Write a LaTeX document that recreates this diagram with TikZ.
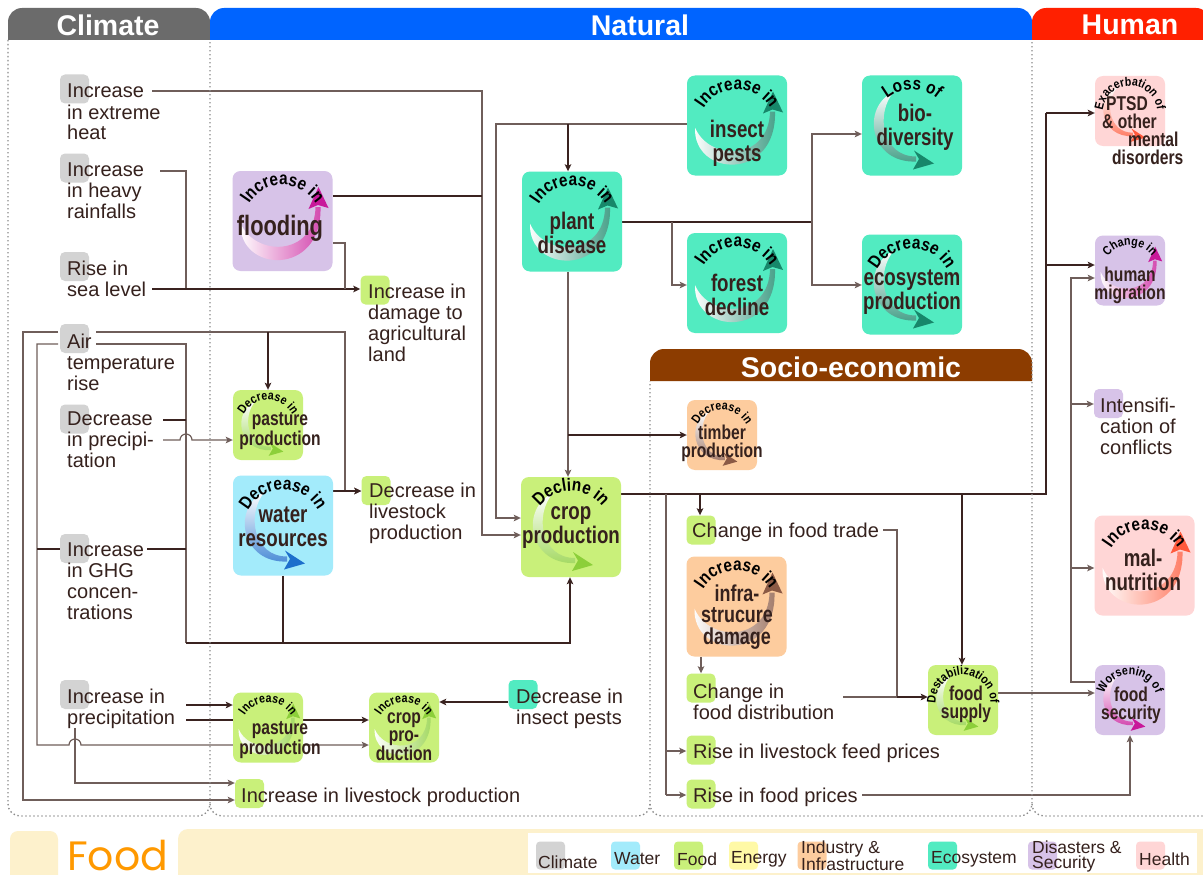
\documentclass[tikz,border=0pt]{standalone}
\usepackage{fontspec}
\setmainfont{Liberation Sans}
\newfontfamily\cnd[FakeStretch=0.78]{Liberation Sans}
\newfontfamily\hfnt[FakeStretch=0.85]{Liberation Sans}
\newfontfamily\foodfont{Poppins}
\usetikzlibrary{arrows.meta,decorations.text}
\pgfdeclarelayer{bg}\pgfsetlayers{bg,main}
\definecolor{txt}{HTML}{35211D}
\definecolor{lnk}{HTML}{3A2320}
\definecolor{lnt}{HTML}{6F5E5A}
\definecolor{dotc}{HTML}{8A8A8A}
\definecolor{grayc}{HTML}{D3D3D3}
\definecolor{waterc}{HTML}{A3EBFB}
\definecolor{foodc}{HTML}{C9F07A}
\definecolor{energyc}{HTML}{FFF9A6}
\definecolor{indc}{HTML}{FDCC9E}
\definecolor{ecoc}{HTML}{52EBC1}
\definecolor{disc}{HTML}{D7C3E8}
\definecolor{healc}{HTML}{FFD6D6}
\definecolor{climtab}{HTML}{6B6B6B}
\definecolor{nattab}{HTML}{0064FF}
\definecolor{humtab}{HTML}{FF2000}
\definecolor{soctab}{HTML}{8C3C00}
\definecolor{cream}{HTML}{FDF1CC}
\definecolor{foodor}{HTML}{FF9900}
\definecolor{magc}{HTML}{C8199A}
\definecolor{tealc}{HTML}{17876A}
\definecolor{bluec}{HTML}{1C6FCC}
\definecolor{greenc}{HTML}{8CCF3A}
\definecolor{brownc}{HTML}{8B5A45}
\definecolor{redc}{HTML}{FF5A3C}
\newcommand\tl[1]{\begin{tabular}[t]{@{}l@{}}#1\end{tabular}}
\newcommand\swup[1]{%
  \shade[left color=white, right color=#1!80!white] (-42pt,-2pt) .. controls (-44pt,-52pt) and (40pt,-56pt) .. (38pt,14pt) -- (33pt,14pt) .. controls (32pt,-36pt) and (-28pt,-36pt) .. (-42pt,-2pt) -- cycle;
  \fill[#1] (36pt,34pt) -- (26pt,12pt) -- (35.5pt,16pt) -- (46pt,13pt) -- cycle;}
\newcommand\swdown[1]{%
  \shade[top color=white, bottom color=#1!80!white] (-18pt,34pt) .. controls (-52pt,18pt) and (-42pt,-38pt) .. (4pt,-36pt) -- (4pt,-31pt) .. controls (-30pt,-31pt) and (-37pt,12pt) .. (-18pt,34pt) -- cycle;
  \fill[#1] (22pt,-38pt) -- (2pt,-25pt) -- (7pt,-33.5pt) -- (1pt,-44pt) -- cycle;}
% name, cx, cy, size, fill, accent, header, dir
\newcommand\icon[8]{%
  \node[iconbox, fill=#5, minimum size=#4pt] (#1) at (#2,#3) {};
  \begin{scope}[shift={(#2,#3)}, scale=#4/100]
    \csname sw#8\endcsname{#6}
    \ifnum#4>80 \def\hsz{18}\else\def\hsz{12.5}\fi
    {\hfnt\bfseries\fontsize{\hsz}{\hsz}\selectfont\color{txt}%
    \path[decorate, decoration={text along path, text align=center, text={#7}}]
      (0pt,-3pt) ++(215:39pt) arc[start angle=215, end angle=-35, radius=39pt];}
  \end{scope}}
\begin{document}
\begin{tikzpicture}[x=1pt,y=-1pt,
  lk/.style={draw=lnk, line width=1.8pt},
  lt/.style={draw=lnt, line width=1.2pt},
  arr/.style={-{Stealth[length=7pt,width=6.5pt,inset=1.5pt]}},
  iconbox/.style={rectangle, rounded corners=8pt, inner sep=0pt},
  sqr/.style={rectangle, rounded corners=5pt, minimum width=29pt, minimum height=29pt, inner sep=0pt},
  tx/.style={anchor=base west, inner sep=0pt, text=txt, font=\fontsize{20}{21}\selectfont},
  mainbig/.style={inner sep=0pt, align=center, text=txt, font=\cnd\bfseries\fontsize{24}{24}\selectfont},
  mainsm/.style={inner sep=0pt, align=center, text=txt, font=\cnd\bfseries\fontsize{20}{18}\selectfont},
  tabtxt/.style={text=white, font=\bfseries\fontsize{28.5}{28.5}\selectfont, inner sep=0pt},
  dotl/.style={draw=dotc, line width=1.3pt, dash pattern=on 1.4pt off 2.6pt},
  lsq/.style={rectangle, rounded corners=4pt, minimum width=29pt, minimum height=28pt, inner sep=0pt},
  ltx/.style={anchor=west, inner sep=0pt, text=txt, font=\fontsize{17.5}{15}\selectfont, align=left}]
\useasboundingbox (0,0) rectangle (1203,875);
\begin{pgfonlayer}{bg}
\fill[white] (0,0) rectangle (1203,875);
\end{pgfonlayer}
% ---------- header tabs ----------
\fill[climtab] (8,40) -- (8,22) arc[start angle=180,end angle=90,radius=14pt] -- (196,8) arc[start angle=90,end angle=0,radius=14pt] -- (210,40) -- cycle;
\fill[nattab] (210,40) -- (210,22) arc[start angle=180,end angle=90,radius=14pt] -- (1018,8) arc[start angle=90,end angle=0,radius=14pt] -- (1032,40) -- cycle;
\fill[humtab] (1032,40) -- (1032,22) arc[start angle=180,end angle=90,radius=14pt] -- (1196,8) arc[start angle=90,end angle=0,radius=14pt] -- (1210,40) -- cycle;
\fill[soctab] (650,381) -- (650,363) arc[start angle=180,end angle=90,radius=14pt] -- (1018,349) arc[start angle=90,end angle=0,radius=14pt] -- (1032,381) -- cycle;
\node[tabtxt] (hclim) at (108,25) {Climate};
\node[tabtxt] (hnat) at (640,25) {Natural};
\node[tabtxt] (hhum) at (1130,25) {Human};
\node[tabtxt] (hsoc) at (851,367) {Socio-economic};
% ---------- dotted regions ----------
\draw[dotl] (8,40) -- (8,804) arc[start angle=180,end angle=270,radius=12pt] -- (198,816) arc[start angle=270,end angle=360,radius=12pt] -- (210,40);
\draw[dotl] (210,804) arc[start angle=180,end angle=270,radius=12pt] -- (638,816) arc[start angle=270,end angle=360,radius=12pt] -- (650,381);
\draw[dotl] (650,804) arc[start angle=180,end angle=270,radius=12pt] -- (1020,816) arc[start angle=270,end angle=360,radius=12pt] -- (1032,40);
\draw[dotl] (1032,804) arc[start angle=180,end angle=270,radius=12pt] -- (1210,816);
% ---------- footer ----------
\fill[cream, rounded corners=8pt] (10,831) rectangle (58,885);
\fill[cream, rounded corners=10pt] (178,829) rectangle (1215,885);
\fill[white] (528,833) rectangle (1197,873);
\node[text=foodor, font=\foodfont\fontsize{41}{41}\selectfont, anchor=base west, inner sep=0pt] (foodlbl) at (67,870) {Food};
\node[lsq, fill=grayc] (lg1) at (550.5,855.5) {}; \node[ltx] (lg1t) at (538,862) {Climate};
\node[lsq, fill=waterc] (lg2) at (625.5,855.5) {}; \node[ltx] (lg2t) at (614,859) {Water};
\node[lsq, fill=foodc] (lg3) at (688.5,855.5) {}; \node[ltx] (lg3t) at (677,859) {Food};
\node[lsq, fill=energyc] (lg4) at (743.5,855.5) {}; \node[ltx] (lg4t) at (731,859) {Energy};
\node[lsq, fill=indc] (lg5) at (812,855.5) {}; \node[ltx] (lg5t) at (801,856) {Industry \&\\Infrastructure};
\node[lsq, fill=ecoc] (lg6) at (942.5,855.5) {}; \node[ltx] (lg6t) at (931,859) {Ecosystem};
\node[lsq, fill=disc] (lg7) at (1042.5,855.5) {}; \node[ltx] (lg7t) at (1032,856) {Disasters \&\\Security};
\node[lsq, fill=healc] (lg8) at (1150.5,855.5) {}; \node[ltx] (lg8t) at (1139,859) {Health};
% ---------- simple labelled nodes ----------
\node[sqr, fill=grayc] (heat-sq) at (74.5,89) {};
\node[tx] (heat) at (67,98) {\tl{Increase\\in extreme\\heat}};
\node[sqr, fill=grayc] (rain-sq) at (74.5,168) {};
\node[tx] (rain) at (67,176) {\tl{Increase\\in heavy\\rainfalls}};
\node[sqr, fill=grayc] (sea-sq) at (74.5,266.5) {};
\node[tx] (sea) at (67,275) {\tl{Rise in\\sea level}};
\node[sqr, fill=grayc] (air-sq) at (74.5,338.5) {};
\node[tx] (air) at (67,348) {\tl{Air\\temperature\\rise}};
\node[sqr, fill=grayc] (dprec-sq) at (74.5,419) {};
\node[tx] (dprec) at (67,425) {\tl{Decrease\\in precipi-\\tation}};
\node[sqr, fill=grayc] (ghg-sq) at (74.5,548.5) {};
\node[tx] (ghg) at (67,556) {\tl{Increase\\in GHG\\concen-\\trations}};
\node[sqr, fill=grayc] (iprec-sq) at (74.5,694.5) {};
\node[tx] (iprec) at (67,703) {\tl{Increase in\\precipitation}};
\node[sqr, fill=foodc] (dmg-sq) at (375,290) {};
\node[tx] (dmg) at (368,298) {\tl{Increase in\\damage to\\agricultural\\land}};
\node[sqr, fill=foodc] (dlive-sq) at (376,490.5) {};
\node[tx] (dlive) at (369,497) {\tl{Decrease in\\livestock\\production}};
\node[sqr, fill=foodc] (trade-sq) at (701,530) {};
\node[tx] (trade) at (692,537) {Change in food trade};
\node[sqr, fill=foodc] (distr-sq) at (701,688) {};
\node[tx] (distr) at (693,698) {\tl{Change in\\food distribution}};
\node[sqr, fill=foodc] (feed-sq) at (701,750) {};
\node[tx] (feed) at (693,758) {Rise in livestock feed prices};
\node[sqr, fill=foodc] (fprice-sq) at (701,794) {};
\node[tx] (fprice) at (693,802) {Rise in food prices};
\node[sqr, fill=ecoc] (dins-sq) at (523,694.5) {};
\node[tx] (dins) at (516,703) {\tl{Decrease in\\insect pests}};
\node[sqr, fill=foodc] (ilive-sq) at (249.5,793.5) {};
\node[tx] (ilive) at (241,802) {Increase in livestock production};
\node[sqr, fill=disc] (confl-sq) at (1108.5,403.5) {};
\node[tx] (confl) at (1100,412) {\tl{Intensifi-\\cation of\\conflicts}};
% ---------- icons ----------
\icon{flood}{282.5}{221}{100}{disc}{magc}{Increase in}{up}
\icon{plant}{572}{221.5}{100}{ecoc}{tealc}{Increase in}{up}
\icon{insect}{737}{125.5}{100}{ecoc}{tealc}{Increase in}{up}
\icon{forest}{737}{283}{100}{ecoc}{tealc}{Increase in}{up}
\icon{bio}{912}{125.5}{100}{ecoc}{tealc}{Loss of}{down}
\icon{eco}{912}{284.5}{100}{ecoc}{tealc}{Decrease in}{down}
\icon{water}{283}{525.5}{100}{waterc}{bluec}{Decrease in}{down}
\icon{crop}{571}{527}{100}{foodc}{greenc}{Decline in}{down}
\icon{infra}{736.5}{606.5}{100}{indc}{brownc}{Increase in}{up}
\icon{maln}{1144.5}{565.5}{100}{healc}{redc}{Increase in}{up}
\icon{dpast}{268}{425}{70}{foodc}{greenc}{Decrease in}{down}
\icon{timber}{722}{435}{70}{indc}{brownc}{Decrease in}{down}
\icon{supply}{963}{700}{70}{foodc}{greenc}{Destabilization of}{down}
\icon{security}{1130}{700}{70}{disc}{magc}{Worsening of}{down}
\icon{ptsd}{1130}{111}{70}{healc}{redc}{Exacerbation of}{down}
\icon{migr}{1130}{270.5}{70}{disc}{magc}{Change in}{up}
\icon{ipast}{268}{727.5}{70}{foodc}{greenc}{Increase in}{up}
\icon{icrop}{404}{727.5}{70}{foodc}{greenc}{Increase in}{up}
% main icon texts
\node[mainbig, font=\cnd\bfseries\fontsize{28}{28}\selectfont] (flood-t) at (280,228) {flooding};
\node[mainbig] (plant-t) at (572,233) {plant\\disease};
\node[mainbig] (insect-t) at (737,143) {insect\\pests};
\node[mainbig] (forest-t) at (737,295) {forest\\decline};
\node[mainbig] (bio-t) at (915,127) {bio-\\diversity};
\node[mainbig] (eco-t) at (912,292) {ecosystem\\production};
\node[mainbig] (water-t) at (283,527) {water\\resources};
\node[mainbig] (crop-t) at (571,528) {crop\\production};
\node[mainbig, font=\cnd\bfseries\fontsize{23}{21.5}\selectfont] (infra-t) at (737,617) {infra-\\strucure\\damage};
\node[mainbig] (maln-t) at (1143,570) {mal-\\nutrition};
\node[mainsm] (dpast-t) at (280,431) {pasture\\production};
\node[mainsm] (timber-t) at (722,443) {timber\\production};
\node[mainsm] (supply-t) at (966,704) {food\\supply};
\node[mainsm] (security-t) at (1131,705) {food\\security};
\node[mainsm] (migr-t) at (1130,285) {human\\migration};
\node[mainsm] (ipast-t) at (280,740) {pasture\\production};
\node[mainsm, font=\cnd\bfseries\fontsize{20}{17.5}\selectfont] (icrop-t) at (404,737) {crop\\pro-\\duction};
\node[mainsm, align=left, anchor=north west] (ptsd-t) at (1102,96) {\hspace*{4pt}PTSD\\\& other\\\hspace*{26pt}mental\\\hspace*{10pt}disorders};
% ---------- connector start points ----------
\coordinate (heat-o) at (152,91);
\coordinate (rain-o) at (160,171);
\coordinate (sea-o) at (152,289);
\coordinate (air-a) at (58,332);
\coordinate (air-b) at (58,344);
\coordinate (air-c) at (96,332);
\coordinate (air-d) at (96,344);
\coordinate (dprec-a) at (163,420);
\coordinate (dprec-b) at (163,440);
\coordinate (ghg-a) at (147,549);
\coordinate (iprec-a) at (186,705);
\coordinate (iprec-b) at (186,720);
\coordinate (iprec-c) at (75,728);
\coordinate (trade-o) at (883,530);
\coordinate (distr-o) at (843,697);
\coordinate (fprice-o) at (862,795);
% ---------- connectors ----------
\begin{pgfonlayer}{bg}
\draw[lt,arr] (heat-o) -- (482,91) -- (482,535) -- (crop.west |- 0,535);
\draw[lk] (flood.east |- 0,196) -- (482,196);
\draw[lt,arr] (insect.west |- 0,124) -- (496,124) -- (496,518) -- (crop.west |- 0,518);
\draw[lk,arr] (568,124) -- (plant.north -| 568,0);
\draw[lt] (rain-o) -- (186,171) -- (186,289);
\draw[lk,arr] (sea-o) -- (dmg-sq.west |- 0,289);
\draw[lt] (flood.east |- 0,243) -- (345,243) -- (345,289);
\draw[lt,arr] (air-a) -- (23,332) -- (23,800) -- (ilive-sq.west |- 0,800);
\draw[lt,arr] (air-b) -- (37,344) -- (37,745) -- (69,745) arc[start angle=180,end angle=0,radius=6pt] -- (icrop.west |- 0,745);
\draw[lt,arr] (air-c) -- (345,332) -- (345,491) -- (dlive-sq.west |- 0,491);
\draw[lk,arr] (268,332) -- (dpast.north);
\draw[lt] (air-d) -- (186,344) -- (186,643);
\draw[lk,arr] (186,643) -- (570,643) -- (crop.south -| 570,0);
\draw[lk] (dprec-a) -- (186,420);
\draw[lt,arr] (dprec-b) -- (180,440) arc[start angle=180,end angle=0,radius=6pt] -- (dpast.west |- 0,440);
\draw[lk] (ghg-a) -- (186,549);
\draw[lk] (ghg-sq.west |- 0,549) -- (37,549);
\draw[lk,arr] (water.east |- 0,491) -- (dlive-sq.west |- 0,491);
\draw[lk] (water.south -| 283,0) -- (283,643);
\draw[lk,arr] (iprec-a) -- (ipast.west |- 0,705);
\draw[lk,arr] (iprec-b) -- (icrop.west |- 0,720);
\draw[lt,arr] (iprec-c) -- (75,783) -- (ilive-sq.west |- 0,783);
\draw[lk,arr] (dins-sq.west |- 0,702) -- (icrop.east |- 0,702);
\draw[lk] (plant.east |- 0,222) -- (812,222);
\draw[lt,arr] (812,222) -- (812,134) -- (bio.west |- 0,134);
\draw[lt,arr] (812,222) -- (812,285) -- (eco.west |- 0,285);
\draw[lt,arr] (672,222) -- (672,285) -- (forest.west |- 0,285);
\draw[lt,arr] (plant.south -| 568,0) -- (crop.north -| 568,0);
\draw[lk,arr] (568,435) -- (timber.west |- 0,435);
\draw[lk] (crop.east |- 0,494) -- (1046,494) -- (1046,113);
\draw[lk,arr] (1046,113) -- (ptsd.west |- 0,113);
\draw[lk,arr] (1046,265) -- (migr.west |- 0,265);
\draw[lk,arr] (700,494) -- (trade-sq.north -| 700,0);
\draw[lk,arr] (962,494) -- (supply.north -| 962,0);
\draw[lt] (666,494) -- (666,795);
\draw[lt,arr] (666,751) -- (feed-sq.west |- 0,751);
\draw[lt,arr] (666,795) -- (fprice-sq.west |- 0,795);
\draw[lt] (trade-o) -- (897,530) -- (897,697);
\draw[lt] (distr-o) -- (897,697);
\draw[lk,arr] (897,697) -- (supply.west |- 0,697);
\draw[lt,arr] (infra.south -| 701,0) -- (distr-sq.north -| 701,0);
\draw[lt,arr] (supply.east |- 0,693) -- (security.west |- 0,693);
\draw[lt,arr] (fprice-o) -- (1130,795) -- (security.south);
\draw[lt,arr] (security.west |- 0,682) -- (1071,682) -- (1071,278) -- (migr.west |- 0,278);
\draw[lt,arr] (1071,404) -- (confl-sq.west |- 0,404);
\draw[lt,arr] (1071,568) -- (maln.west |- 0,568);
\end{pgfonlayer}
\end{tikzpicture}
\end{document}
